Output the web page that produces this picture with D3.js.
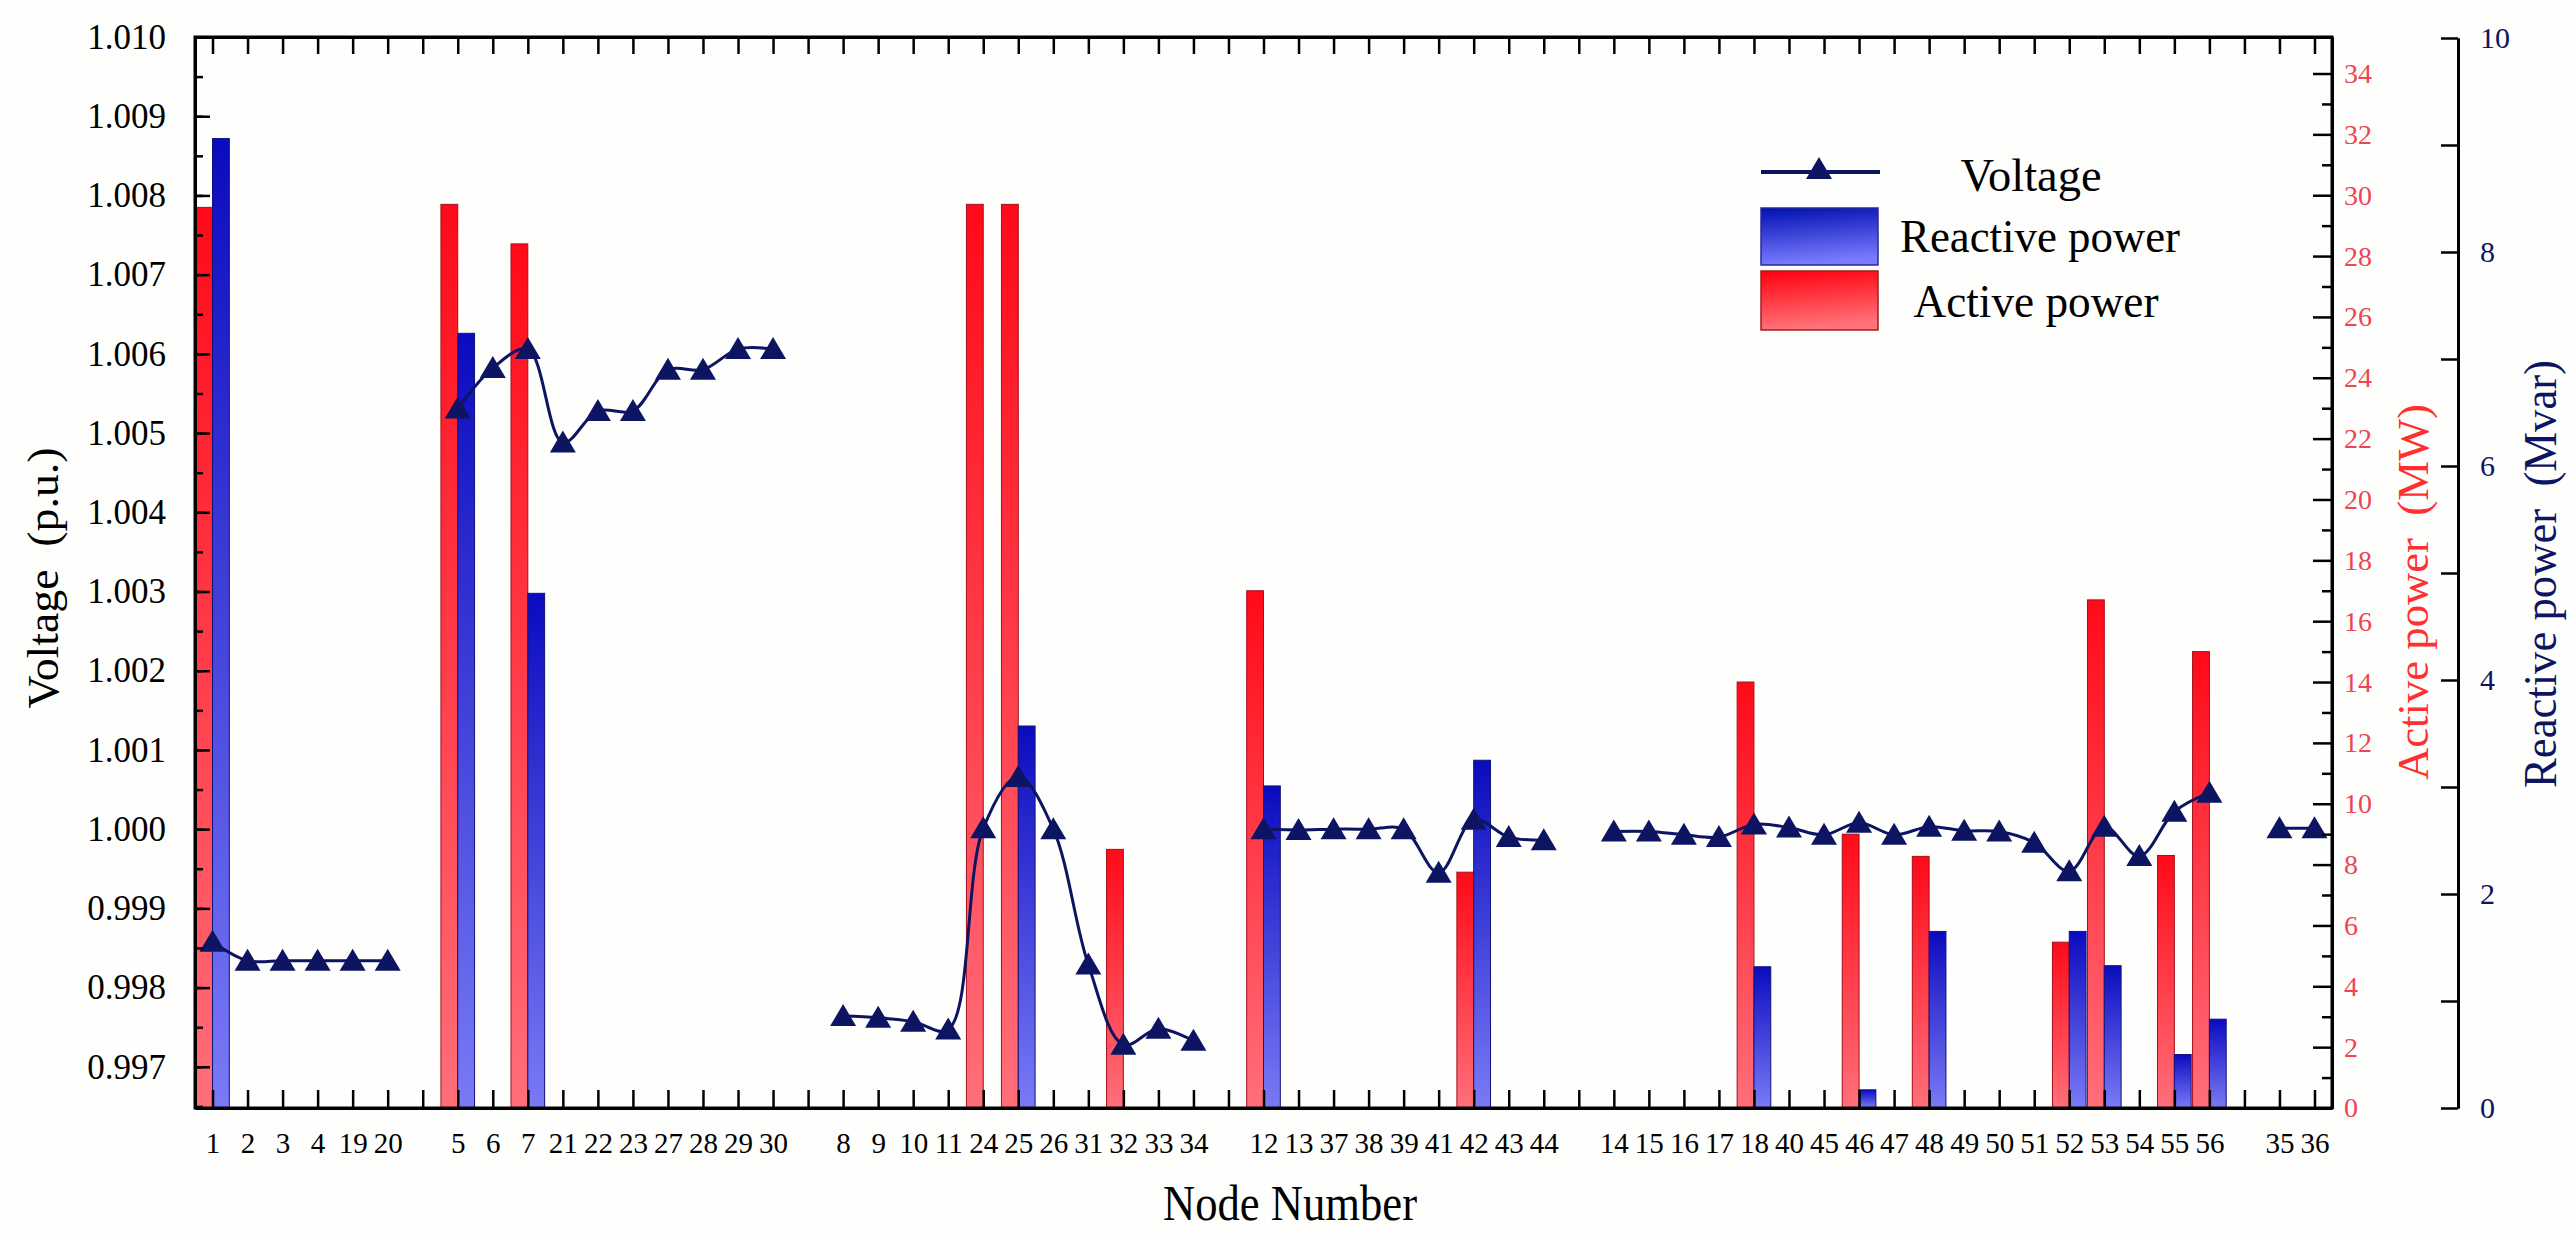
<!DOCTYPE html>
<html>
<head>
<meta charset="utf-8">
<script src="https://cdn.jsdelivr.net/npm/d3@7/dist/d3.min.js"></script>
<style>
  html, body { margin: 0; padding: 0; background: #fefefc; }
  svg { display: block; }
  text { white-space: pre; }
</style>
</head>
<body>
<svg id="chart" width="2576" height="1238"></svg>
<script>
// ---------------- data ----------------
const group1 = ["1","2","3","4","19","20"];
const group2 = ["5","6","7","21","22","23","27","28","29","30"];
const group3 = ["8","9","10","11","24","25","26","31","32","33","34"];
const group4 = ["12","13","37","38","39","41","42","43","44"];
const group5 = ["14","15","16","17","18","40","45","46","47","48","49","50","51","52","53","54","55","56"];
const group6 = ["35","36"];

const voltage1 = [0.99858, 0.99834, 0.99834, 0.99834, 0.99834, 0.99834];
const voltage2 = [1.00531, 1.00582, 1.00606, 1.00488, 1.00528, 1.00528, 1.00580, 1.00580, 1.00606, 1.00606];
const voltage3 = [0.99764, 0.99762, 0.99757, 0.99747, 1.00001, 1.00066, 1.00000, 0.99829, 0.99728, 0.99748, 0.99733];
const voltage4 = [1.00000, 0.99999, 1.00000, 1.00000, 1.00000, 0.99945, 1.00012, 0.99990, 0.99986];
const voltage5 = [0.99997, 0.99997, 0.99993, 0.99990, 1.00006, 1.00002, 0.99993, 1.00008, 0.99993, 1.00003, 0.99998, 0.99997, 0.99983, 0.99947, 1.00003, 0.99966, 1.00022, 1.00046];
const voltage6 = [1.00001, 1.00001];

const activeNodes  = ["1","5","7","24","25","32","12","42","18","46","48","52","53","55","56"];
const activePower  = [29.6, 29.7, 28.4, 29.7, 29.7, 8.5, 17.0, 7.75, 14.0, 9.0, 8.27, 5.45, 16.7, 8.3, 15.0];

const reactiveNodes = ["1","5","7","25","12","42","18","46","48","52","53","55","56"];
const reactivePower = [9.06, 7.24, 4.81, 3.57, 3.01, 3.25, 1.32, 0.17, 1.65, 1.65, 1.33, 0.5, 0.83];

const voltageTicks  = ["0.997","0.998","0.999","1.000","1.001","1.002","1.003","1.004","1.005","1.006","1.007","1.008","1.009","1.010"];
const activeTicks   = [0,2,4,6,8,10,12,14,16,18,20,22,24,26,28,30,32,34];
const reactiveTicks = [0,2,4,6,8,10];

const groups = [group1, group2, group3, group4, group5, group6];
const voltages = [voltage1, voltage2, voltage3, voltage4, voltage5, voltage6];

// ---------------- font pick ----------------
function pickFont(list) {
  const ctx = document.createElement("canvas").getContext("2d");
  const s = "mmmmmmmmmmwwwlli1.0WQgy";
  for (const f of list) {
    let ok = false;
    for (const base of ["monospace", "sans-serif"]) {
      ctx.font = `40px ${base}`;
      const w0 = ctx.measureText(s).width;
      ctx.font = `40px "${f}", ${base}`;
      const w1 = ctx.measureText(s).width;
      if (Math.abs(w1 - w0) > 0.5) ok = true;
    }
    if (ok) return `"${f}"`;
  }
  return "serif";
}
const FONT = pickFont(["Liberation Serif", "Times New Roman", "Tinos", "Nimbus Roman", "DejaVu Serif", "Noto Serif"]) + ", serif";

// ---------------- layout ----------------
const P = {left: 195, right: 2332, top: 37, bottom: 1108};
const reactiveAxisX = 2458;
const navy = "#0d1462";
const red = "#ef4452";

const svg = d3.select("#chart").style("font-family", FONT);
svg.append("rect").attr("width", 2576).attr("height", 1238).attr("fill", "#fefefc");

// slots: groups separated by one empty slot
const slots = [];
groups.forEach((g, i) => { if (i > 0) slots.push("gap" + i); g.forEach(n => slots.push(n)); });

const x = d3.scalePoint().domain(slots).range([P.left, P.right]).padding(0.5);
const step = x.step();
const barW = step * 0.48;

const yV = d3.scaleLinear().domain([0.99648, 1.010]).range([P.bottom, P.top]);
const yP = d3.scaleLinear().domain([0, 35.2]).range([P.bottom, P.top]);
const yQ = d3.scaleLinear().domain([0, 10]).range([P.bottom, P.top + 1]);

// gradients
const defs = svg.append("defs");
function grad(id, c1, c2, x2) {
  const g = defs.append("linearGradient").attr("id", id)
    .attr("x1", 0).attr("y1", 0).attr("x2", x2 || 0).attr("y2", 1);
  g.append("stop").attr("offset", "0%").attr("stop-color", c1);
  g.append("stop").attr("offset", "100%").attr("stop-color", c2);
}
grad("gRed", "#ff0a18", "#ff6f7a");
grad("gBlue", "#0b0bbf", "#7a7af6");
grad("gRedL", "#ff0010", "#ff7378", 0.15);
grad("gBlueL", "#0010b0", "#7a7aff", 0.15);

// ---------------- bars ----------------
const activeData = activeNodes.map((n, i) => ({node: n, v: activePower[i]}));
const reactiveData = reactiveNodes.map((n, i) => ({node: n, v: reactivePower[i]}));

svg.append("g").selectAll("rect").data(activeData).join("rect")
  .attr("x", d => x(d.node) - barW)
  .attr("y", d => yP(d.v))
  .attr("width", barW)
  .attr("height", d => P.bottom - yP(d.v))
  .attr("fill", "url(#gRed)")
  .attr("stroke", "#a3101c").attr("stroke-width", 1);

svg.append("g").selectAll("rect").data(reactiveData).join("rect")
  .attr("x", d => x(d.node))
  .attr("y", d => yQ(d.v))
  .attr("width", barW)
  .attr("height", d => P.bottom - yQ(d.v))
  .attr("fill", "url(#gBlue)")
  .attr("stroke", "#12127a").attr("stroke-width", 1);

// ---------------- voltage line ----------------
const line = d3.line().x(d => x(d.node)).y(d => yV(d.v)).curve(d3.curveCatmullRom.alpha(0.5));
const tri = "M0,-12L13,10L-13,10Z";
const vg = svg.append("g");
groups.forEach((g, gi) => {
  const pts = g.map((n, i) => ({node: n, v: voltages[gi][i]}));
  vg.append("path").datum(pts).attr("d", line)
    .attr("fill", "none").attr("stroke", navy).attr("stroke-width", 3);
  vg.selectAll(null).data(pts).join("path")
    .attr("d", tri)
    .attr("transform", d => `translate(${x(d.node)},${yV(d.v)})`)
    .attr("fill", navy);
});

// ---------------- axes ----------------
const axW = 3;
function styleAxis(g, color) {
  g.attr("font-family", FONT);
  g.selectAll(".domain").attr("stroke", "#000").attr("stroke-width", axW);
  g.selectAll(".tick line").attr("stroke", "#000").attr("stroke-width", 2.5);
  g.selectAll("text").attr("fill", color || "#000").attr("font-family", FONT);
}

// bottom
const gx = svg.append("g").attr("transform", `translate(0,${P.bottom})`)
  .call(d3.axisBottom(x).tickSize(-18).tickSizeOuter(0).tickPadding(24)
    .tickFormat(d => d.startsWith("gap") ? "" : d));
gx.selectAll("text").attr("font-size", 29);
styleAxis(gx);

// top
const gt = svg.append("g").attr("transform", `translate(0,${P.top})`)
  .call(d3.axisTop(x).tickSize(-17).tickSizeOuter(0).tickFormat(""));
styleAxis(gt);

// left voltage axis
const vTickVals = voltageTicks.map(Number);
const vMinor = d3.range(0, 27).map(i => 0.9965 + i * 0.0005).filter(v => v > 0.99649 && v < 1.0101);
const gvm = svg.append("g").attr("transform", `translate(${P.left},0)`)
  .call(d3.axisLeft(yV).tickValues(vMinor).tickSize(-8).tickSizeOuter(0).tickFormat(""));
styleAxis(gvm);
const gv = svg.append("g").attr("transform", `translate(${P.left},0)`)
  .call(d3.axisLeft(yV).tickValues(vTickVals).tickSize(-15).tickSizeOuter(0).tickPadding(29)
    .tickFormat(d3.format(".3f")));
gv.selectAll("text").attr("font-size", 35);
styleAxis(gv);

// right active axis
const gpm = svg.append("g").attr("transform", `translate(${P.right},0)`)
  .call(d3.axisRight(yP).tickValues(d3.range(1, 35, 2)).tickSize(-10).tickSizeOuter(0).tickFormat(""));
styleAxis(gpm);
const gp = svg.append("g").attr("transform", `translate(${P.right},0)`)
  .call(d3.axisRight(yP).tickValues(activeTicks).tickSize(-19).tickSizeOuter(0).tickPadding(12));
gp.selectAll("text").attr("font-size", 28);
styleAxis(gp, red);

// reactive axis
const gqm = svg.append("g").attr("transform", `translate(${reactiveAxisX},0)`)
  .call(d3.axisRight(yQ).tickValues([1,3,5,7,9]).tickSize(-17).tickSizeOuter(0).tickFormat(""));
styleAxis(gqm);
const gq = svg.append("g").attr("transform", `translate(${reactiveAxisX},0)`)
  .call(d3.axisRight(yQ).tickValues(reactiveTicks).tickSize(-17).tickSizeOuter(0).tickPadding(22));
gq.selectAll("text").attr("font-size", 30);
styleAxis(gq, navy);

// frame
svg.append("rect").attr("x", P.left).attr("y", P.top)
  .attr("width", P.right - P.left).attr("height", P.bottom - P.top)
  .attr("fill", "none").attr("stroke", "#000").attr("stroke-width", axW);

// ---------------- titles ----------------
function fitText(sel, len) {
  sel.attr("textLength", len).attr("lengthAdjust", "spacingAndGlyphs");
}
fitText(svg.append("text").attr("x", 1290).attr("y", 1220)
  .attr("text-anchor", "middle").attr("font-size", 51).attr("fill", "#000")
  .text("Node Number"), 254);

fitText(svg.append("text").attr("transform", "translate(42,578) rotate(-90)")
  .attr("text-anchor", "middle").attr("dy", "0.35em").attr("font-size", 45).attr("fill", "#000")
  .text("Voltage  (p.u.)"), 261);

fitText(svg.append("text").attr("transform", "translate(2412,592) rotate(-90)")
  .attr("text-anchor", "middle").attr("dy", "0.35em").attr("font-size", 45).attr("fill", "#ff3030")
  .text("Active power  (MW)"), 376);

fitText(svg.append("text").attr("transform", "translate(2540,574) rotate(-90)")
  .attr("text-anchor", "middle").attr("dy", "0.35em").attr("font-size", 47).attr("fill", navy)
  .text("Reactive power  (Mvar)"), 428);

// ---------------- legend ----------------
const lg = svg.append("g");
lg.append("line").attr("x1", 1761).attr("x2", 1880).attr("y1", 172).attr("y2", 172)
  .attr("stroke", navy).attr("stroke-width", 4);
lg.append("path").attr("d", tri).attr("transform", "translate(1819,169)").attr("fill", navy);
fitText(lg.append("text").attr("x", 2031).attr("y", 175).attr("dy", "0.35em").attr("text-anchor", "middle")
  .attr("font-size", 46).text("Voltage"), 141);
lg.append("rect").attr("x", 1761).attr("y", 208).attr("width", 117).attr("height", 57)
  .attr("fill", "url(#gBlueL)").attr("stroke", "#2a2a9a").attr("stroke-width", 1.5);
fitText(lg.append("text").attr("x", 2040).attr("y", 236).attr("dy", "0.35em").attr("text-anchor", "middle")
  .attr("font-size", 46).text("Reactive power"), 280);
lg.append("rect").attr("x", 1761).attr("y", 271).attr("width", 117).attr("height", 59)
  .attr("fill", "url(#gRedL)").attr("stroke", "#9a2020").attr("stroke-width", 1.5);
fitText(lg.append("text").attr("x", 2036).attr("y", 301).attr("dy", "0.35em").attr("text-anchor", "middle")
  .attr("font-size", 46).text("Active power"), 245);
</script>
</body>
</html>
